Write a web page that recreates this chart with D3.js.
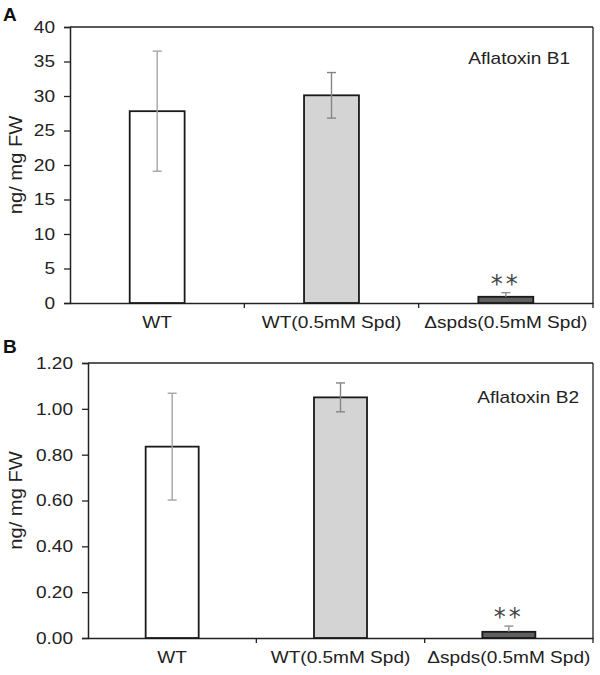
<!DOCTYPE html>
<html><head><meta charset="utf-8">
<script src="https://cdn.jsdelivr.net/npm/d3@7"></script>
<style>body{margin:0;background:#fff}svg{display:block}text{font-family:"Liberation Sans",Arial,sans-serif}</style>
</head><body>
<script>
const categories = ["WT", "WT(0.5mM Spd)", "\u0394spds(0.5mM Spd)"];
const b1Values = [27.8, 30.1, 0.9];
const b1Errors = [8.7, 3.3, 0.6];
const b1Ticks = [0, 5, 10, 15, 20, 25, 30, 35, 40];
const b2Values = [0.835, 1.05, 0.027];
const b2Errors = [0.233, 0.063, 0.025];
const b2Ticks = [0, 0.2, 0.4, 0.6, 0.8, 1.0, 1.2];
const fills = ["#ffffff", "#d4d4d4", "#5f5f5f"];
const errColors = ["#a3a3a3", "#858585", "#8f8f8f"];
const signif = ["", "", "**"];

const FONT = '"Liberation Sans",Arial,sans-serif';
const STRETCH = 1.12;
const svg = d3.select("body").append("svg").attr("width", 600).attr("height", 675);

function stretch(sel) {
  sel.each(function () {
    const L = this.getComputedTextLength();
    d3.select(this).attr("textLength", L * STRETCH).attr("lengthAdjust", "spacingAndGlyphs");
  });
}

function panel(o) {
  const g = svg.append("g");
  const x = d3.scaleBand().domain(categories).range([o.left, o.right]).padding(0);
  const y = d3.scaleLinear().domain([0, o.max]).range([o.bottom, o.top]);
  // frame top & right
  g.append("line").attr("x1", o.left).attr("x2", o.right).attr("y1", o.top).attr("y2", o.top).attr("stroke", "#222").attr("stroke-width", 1.3);
  g.append("line").attr("x1", o.right).attr("x2", o.right).attr("y1", o.top).attr("y2", o.bottom + 5).attr("stroke", "#222").attr("stroke-width", 1.3);
  // y axis
  const ya = g.append("g").attr("transform", `translate(${o.left},0)`)
    .call(d3.axisLeft(y).tickValues(o.ticks).tickFormat(o.fmt).tickSize(6).tickPadding(9));
  ya.select(".domain").attr("stroke", "#222").attr("stroke-width", 1.5);
  ya.selectAll(".tick line").attr("stroke", "#222").attr("stroke-width", 1.3);
  ya.selectAll("text").attr("font-size", 17).attr("fill", "#222").style("font-family", FONT).call(stretch);
  // x axis
  const xa = g.append("g").attr("transform", `translate(0,${o.bottom})`)
    .call(d3.axisBottom(x).tickSize(0).tickPadding(13).tickSizeOuter(0));
  xa.select(".domain").attr("stroke", "#222").attr("stroke-width", 1.5);
  xa.selectAll("text").attr("font-size", 17).attr("fill", "#222").style("font-family", FONT).call(stretch);
  // category separator ticks
  g.selectAll(".sep").data(categories.slice(1)).enter().append("line")
    .attr("x1", d => x(d)).attr("x2", d => x(d)).attr("y1", o.bottom).attr("y2", o.bottom + 5)
    .attr("stroke", "#222").attr("stroke-width", 1.3);
  const bw = x.bandwidth() * 0.315;
  const vals = o.values;
  // bars
  g.selectAll(".bar").data(vals).enter().append("rect")
    .attr("x", (d, i) => x(categories[i]) + (x.bandwidth() - bw) / 2)
    .attr("y", d => y(d))
    .attr("width", bw)
    .attr("height", d => o.bottom - y(d))
    .attr("fill", (d, i) => fills[i])
    .attr("stroke", "#1a1a1a").attr("stroke-width", 1.8);
  // error bars
  vals.forEach((v, i) => {
    const cx = x(categories[i]) + x.bandwidth() / 2;
    const lo = i === 2 ? v : v - o.errors[i];
    const hi = v + o.errors[i];
    const c = errColors[i];
    g.append("line").attr("x1", cx).attr("x2", cx).attr("y1", y(lo)).attr("y2", y(hi)).attr("stroke", c).attr("stroke-width", 1.4);
    g.append("line").attr("x1", cx - 4.5).attr("x2", cx + 4.5).attr("y1", y(hi)).attr("y2", y(hi)).attr("stroke", c).attr("stroke-width", 1.4);
    if (i !== 2) g.append("line").attr("x1", cx - 4.5).attr("x2", cx + 4.5).attr("y1", y(lo)).attr("y2", y(lo)).attr("stroke", c).attr("stroke-width", 1.4);
    if (signif[i]) g.append("text").attr("x", cx).attr("y", y(hi) - 1).attr("text-anchor", "middle")
      .attr("font-size", 24).style("font-family", '"DejaVu Sans",sans-serif').attr("fill", "#444")
      .attr("letter-spacing", 3).text(signif[i]);
  });
  // y label
  g.append("text").attr("transform", `translate(${o.ylabX},${(o.top + o.bottom) / 2}) rotate(-90)`)
    .attr("text-anchor", "middle").attr("font-size", 18).attr("fill", "#222").text("ng/ mg FW").call(stretch);
  // title
  g.append("text").attr("x", o.titleX).attr("y", o.titleY).attr("text-anchor", "end")
    .attr("font-size", 17).attr("fill", "#222").text(o.title).call(stretch);
  // panel letter
  g.append("text").attr("x", 3).attr("y", o.letterY).attr("font-size", 19).attr("font-weight", "bold").attr("fill", "#111").text(o.letter);
}

panel({left: 70, right: 593, top: 27, bottom: 303, max: 40, ticks: b1Ticks, fmt: d3.format("d"),
  values: b1Values, errors: b1Errors, ylabX: 22, title: "Aflatoxin B1", titleX: 570, titleY: 64, letter: "A", letterY: 21});
panel({left: 88, right: 593, top: 363, bottom: 638, max: 1.2, ticks: b2Ticks, fmt: d3.format(".2f"),
  values: b2Values, errors: b2Errors, ylabX: 22, title: "Aflatoxin B2", titleX: 579, titleY: 403, letter: "B", letterY: 353});
</script>
</body></html>
